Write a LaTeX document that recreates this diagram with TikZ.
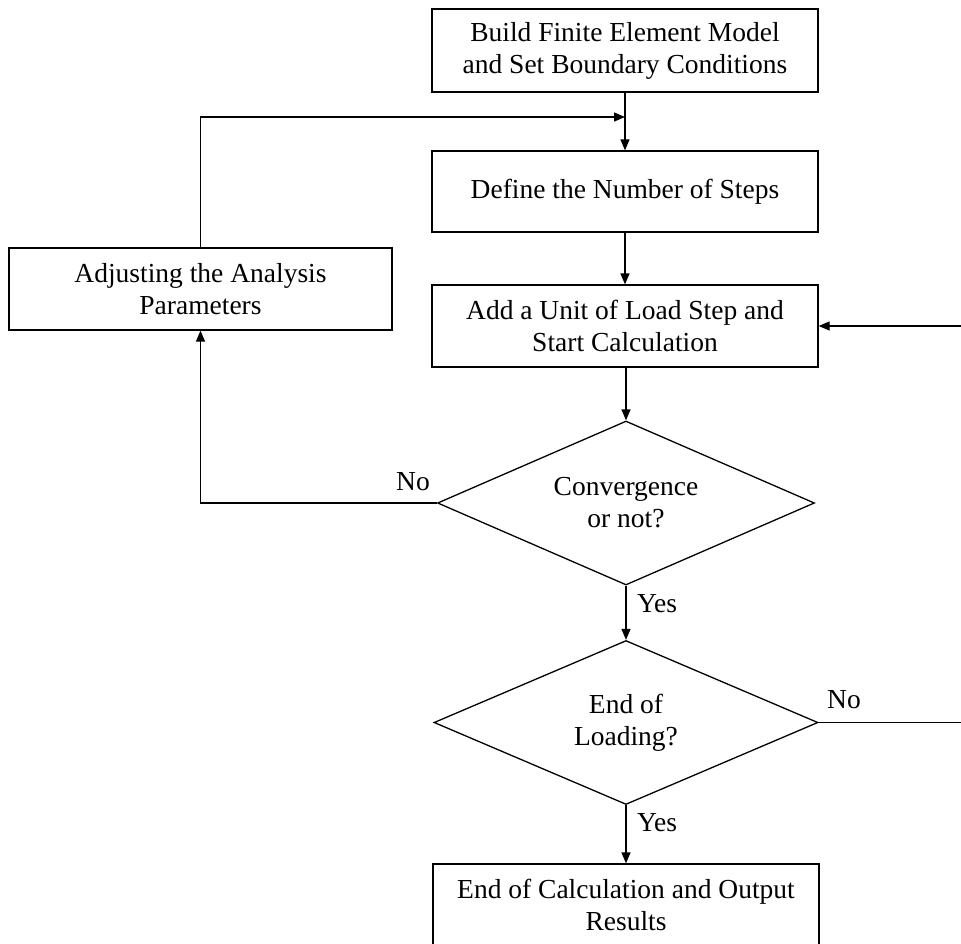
\documentclass[tikz,border=0pt]{standalone}
\usepackage{fontspec}
\setmainfont{Liberation Serif}
\usetikzlibrary{shapes.geometric,arrows.meta}
\begin{document}
\begin{tikzpicture}[x=1pt,y=-1pt,
  font=\fontsize{27.5}{32}\selectfont,
  line width=1.3pt,
  procbox/.style={draw, rectangle, inner sep=0pt, minimum width=386pt, minimum height=82pt, align=center},
  decision/.style={draw, diamond, inner sep=0pt, align=center},
  arr/.style={-{Triangle[length=11pt,width=9pt]}},
  lbl/.style={inner sep=0pt}]
\useasboundingbox (0,0) rectangle (961,943);
\begin{scope}
\clip (0,0) rectangle (961,943);
\node[procbox, minimum height=83pt] (build) at (625,50.5) {Build Finite Element Model\\and Set Boundary Conditions};
\node[procbox, minimum height=81pt] (steps) at (625,191.5) {Define the Number of Steps};
\node[procbox] (add) at (625,326) {Add a Unit of Load Step and\\Start Calculation};
\node[procbox, minimum width=383pt] (adjust) at (200.5,289) {Adjusting the Analysis\\Parameters};
\node[decision, minimum width=377pt, minimum height=164pt, shape aspect=2.3] (conv) at (626,503) {Convergence\\or not?};
\node[decision, minimum width=384pt, minimum height=164pt, shape aspect=2.34] (endload) at (626,722.5) {End of\\Loading?};
\node[procbox] (final) at (626,905) {End of Calculation and Output\\Results};

\coordinate (join) at (625,117);
\coordinate (r1) at (962,722.5);
\coordinate (r2) at (962,326);

\draw[arr] (build) -- (steps);
\draw[arr] (adjust.north) |- (join);
\draw[arr] (steps) -- (add);
\draw[arr] (add.south -| conv.north) -- (conv.north);
\draw[arr] (conv.west) -| (adjust.south);
\draw[arr] (conv.south) -- (endload.north);
\draw[arr] (endload.south) -- (final.north);
\draw[arr] (endload.east) -- (r1) -- (r2) -- (add.east);

\node[lbl] (no1) at (413,482) {No};
\node[lbl] (yes1) at (657,604) {Yes};
\node[lbl] (no2) at (844,700) {No};
\node[lbl] (yes2) at (657,823) {Yes};
\end{scope}
\end{tikzpicture}
\end{document}
